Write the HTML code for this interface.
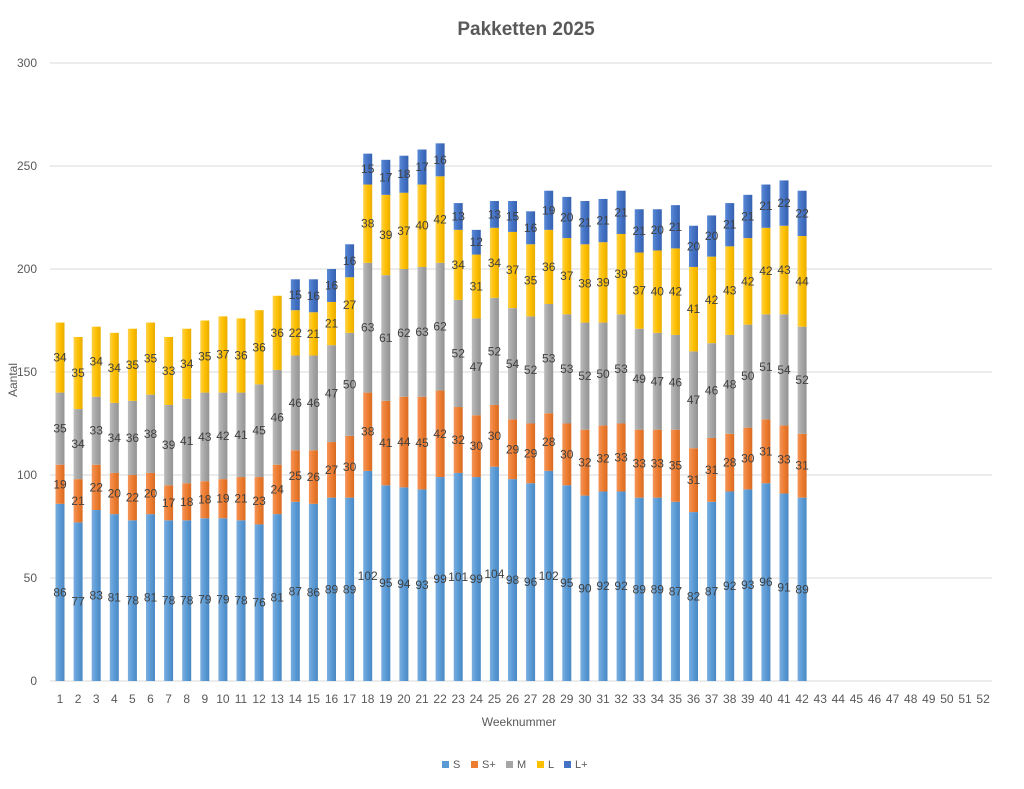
<!DOCTYPE html>
<html><head><meta charset="utf-8"><style>
html,body{margin:0;padding:0;background:#fff;}
svg{display:block;font-family:"Liberation Sans",Arial,sans-serif;}
</style></head><body>
<svg id="c" width="1024" height="789" xmlns="http://www.w3.org/2000/svg">
<defs>
<linearGradient id="gS" x1="0" x2="1"><stop offset="0" stop-color="#7aaee0"/><stop offset="0.5" stop-color="#5b9bd5"/><stop offset="1" stop-color="#4a88c4"/></linearGradient>
<linearGradient id="gSp" x1="0" x2="1"><stop offset="0" stop-color="#f4955a"/><stop offset="0.5" stop-color="#ed7d31"/><stop offset="1" stop-color="#d86b22"/></linearGradient>
<linearGradient id="gM" x1="0" x2="1"><stop offset="0" stop-color="#bcbcbc"/><stop offset="0.5" stop-color="#a5a5a5"/><stop offset="1" stop-color="#939393"/></linearGradient>
<linearGradient id="gL" x1="0" x2="1"><stop offset="0" stop-color="#ffd14a"/><stop offset="0.5" stop-color="#ffc000"/><stop offset="1" stop-color="#e8ad00"/></linearGradient>
<linearGradient id="gLp" x1="0" x2="1"><stop offset="0" stop-color="#5a8ad6"/><stop offset="0.5" stop-color="#4472c4"/><stop offset="1" stop-color="#3661b0"/></linearGradient>
</defs>
<text x="526" y="35" text-anchor="middle" font-size="19" font-weight="bold" fill="#595959">Pakketten 2025</text>
<text transform="translate(17,380) rotate(-90)" text-anchor="middle" font-size="12" fill="#595959">Aantal</text>
<text x="519" y="726" text-anchor="middle" font-size="12" fill="#595959">Weeknummer</text>
<g id="grid"></g><g id="bars"></g><g id="lbl"></g>
<g font-size="11" fill="#595959">
<rect x="442" y="761" width="7" height="7" fill="#5b9bd5"/><text x="453" y="768">S</text>
<rect x="471" y="761" width="7" height="7" fill="#ed7d31"/><text x="482" y="768">S+</text>
<rect x="506" y="761" width="7" height="7" fill="#a5a5a5"/><text x="517" y="768">M</text>
<rect x="537" y="761" width="7" height="7" fill="#ffc000"/><text x="548" y="768">L</text>
<rect x="564" y="761" width="7" height="7" fill="#4472c4"/><text x="575" y="768">L+</text>
</g>
</svg>
<script>
var S=[86,77,83,81,78,81,78,78,79,79,78,76,81,87,86,89,89,102,95,94,93,99,101,99,104,98,96,102,95,90,92,92,89,89,87,82,87,92,93,96,91,89];
var Sp=[19,21,22,20,22,20,17,18,18,19,21,23,24,25,26,27,30,38,41,44,45,42,32,30,30,29,29,28,30,32,32,33,33,33,35,31,31,28,30,31,33,31];
var M=[35,34,33,34,36,38,39,41,43,42,41,45,46,46,46,47,50,63,61,62,63,62,52,47,52,54,52,53,53,52,50,53,49,47,46,47,46,48,50,51,54,52];
var L=[34,35,34,34,35,35,33,34,35,37,36,36,36,22,21,21,27,38,39,37,40,42,34,31,34,37,35,36,37,38,39,39,37,40,42,41,42,43,42,42,43,44];
var Lp=[0,0,0,0,0,0,0,0,0,0,0,0,0,15,16,16,16,15,17,18,17,16,13,12,13,15,16,19,20,21,21,21,21,20,21,20,20,21,21,21,22,22];
var ns="http://www.w3.org/2000/svg";
function el(p,t,a,txt){var e=document.createElementNS(ns,t);for(var k in a)e.setAttribute(k,a[k]);if(txt!=null)e.textContent=txt;p.appendChild(e);return e;}
var y0=681,k=(681-63)/300;
var g=document.getElementById('grid'),b=document.getElementById('bars'),l=document.getElementById('lbl');
for(var v=0;v<=300;v+=50){var y=y0-v*k;el(g,'line',{x1:50,x2:992,y1:y,y2:y,stroke:'#d9d9d9','stroke-width':1});
el(g,'text',{x:37,y:y+4,'text-anchor':'end','font-size':12,fill:'#595959'},v);}
function X(i){return 60+i*18.1;}
for(var i=0;i<52;i++)el(g,'text',{x:X(i),y:703,'text-anchor':'middle','font-size':12,fill:'#595959'},i+1);
var ser=[[S,'url(#gS)'],[Sp,'url(#gSp)'],[M,'url(#gM)'],[L,'url(#gL)'],[Lp,'url(#gLp)']];
for(var i=0;i<42;i++){var c=0;
for(var s=0;s<5;s++){var v=ser[s][0][i];if(!v)continue;var yt=y0-(c+v)*k,h=v*k;
el(b,'rect',{x:X(i)-4.5,y:yt,width:9,height:h,fill:ser[s][1]});
el(l,'text',{x:X(i),y:yt+h/2+4,'text-anchor':'middle','font-size':12,fill:'#404040'},v);
c+=v;}}
</script>
</body></html>
